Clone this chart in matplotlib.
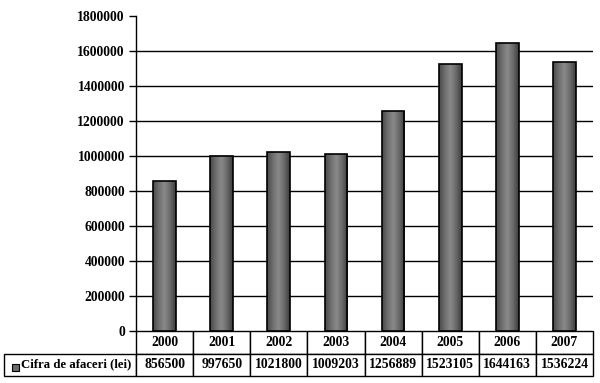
import numpy as np
import matplotlib
matplotlib.use("Agg")
import matplotlib.pyplot as plt
from matplotlib.colors import LinearSegmentedColormap
from matplotlib.patches import Rectangle

years = ['2000', '2001', '2002', '2003', '2004', '2005', '2006', '2007']
cifra = [856500, 997650, 1021800, 1009203, 1256889, 1523105, 1644163, 1536224]
serie = 'Cifra de afaceri (lei)'

plt.rcParams['font.family'] = 'Liberation Serif'
plt.rcParams['font.weight'] = 'bold'

fig = plt.figure(figsize=(6, 3.83), dpi=100)
ax = fig.add_axes([136/600, 1-331/383, 457/600, 315/383])

# cylinder-like shading for the bars
cyl = LinearSegmentedColormap.from_list('cyl', ['#4a4a4a', '#6e6e6e', '#8a8a8a', '#6a6a6a', '#3c3c3c'])
grad = np.linspace(0, 1, 64).reshape(1, -1)
w = 0.4
x = np.arange(len(years))
for i, v in zip(x, cifra):
    ax.imshow(grad, cmap=cyl, aspect='auto', extent=[i - w/2, i + w/2, 0, v], zorder=3, interpolation='bilinear')
    ax.add_patch(Rectangle((i - w/2, 0), w, v, fill=False, edgecolor='black', linewidth=1.2, zorder=4))

ax.set_xlim(-0.5, len(years) - 0.5)
ax.set_ylim(0, 1800000)
ax.set_yticks(np.arange(0, 1800001, 200000))
ax.set_yticklabels([str(t) for t in range(0, 1800001, 200000)], fontsize=9.8, fontweight='bold')
ax.tick_params(axis='y', length=5, width=1, pad=3)
ax.set_xticks([])
for t in range(200000, 1800000, 200000):
    ax.axhline(t, color='black', linewidth=1, zorder=1)
for s in ['top', 'right', 'bottom']:
    ax.spines[s].set_visible(False)
ax.spines['left'].set_linewidth(1)

# data table under the axis, first column holds the series label
h = 45/315
tab = ax.table(cellText=[[serie] + [str(v) for v in cifra]], colLabels=[''] + years,
               colWidths=[132/457] + [1/8]*8, cellLoc='center',
               bbox=[-132/457, -h, 589/457, h])
tab.auto_set_font_size(False)
tab.set_fontsize(9.8)
for (r, c), cell in tab.get_celld().items():
    cell.set_linewidth(1)
    cell.set_edgecolor('black')
    cell.set_text_props(fontweight='bold')
    if c == 0:
        cell.get_text().set_ha('left')
        cell.get_text().set_fontsize(9.2)
        cell._loc = 'left'
        cell.PAD = 17/132
tab[(0, 0)].visible_edges = ''

# legend key square
ax.add_patch(Rectangle((-124/457, -(371-331)/315), 7/457, 7/315, transform=ax.transAxes,
                       facecolor='#6a6a6a', edgecolor='black', linewidth=0.8, clip_on=False))

fig.savefig('out.png', dpi=100)
